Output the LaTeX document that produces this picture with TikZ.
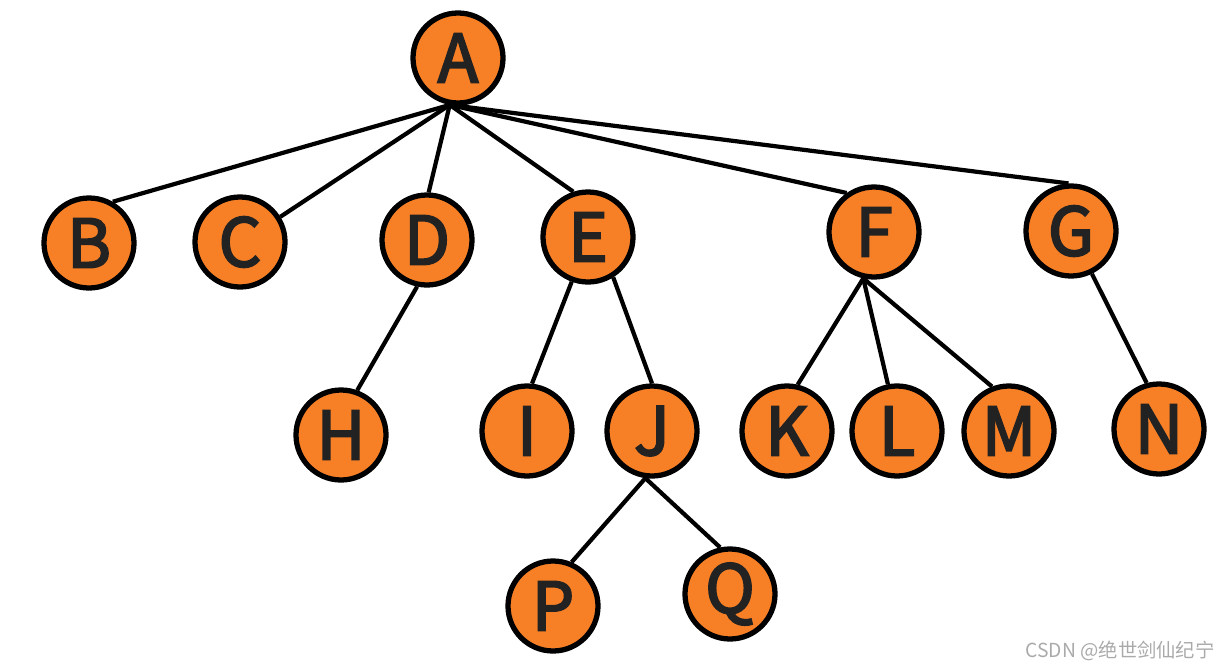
\documentclass[tikz,border=0pt]{standalone}
\usepackage{fontspec}
\newfontfamily\cjk{Noto Sans CJK SC}
\newfontfamily\lbl{Noto Sans CJK SC}[FakeBold=3]
\usetikzlibrary{positioning,backgrounds}
\definecolor{nodeorange}{RGB}{247,128,38}
\definecolor{lettergray}{RGB}{34,34,34}
\definecolor{markgray}{RGB}{170,170,170}
\tikzset{
  vtx/.style   = {circle, draw=black, line width=3pt, fill=nodeorange,
                  minimum size=1.8cm, inner sep=0pt, text=lettergray,
                  font=\lbl\fontsize{38}{38}\selectfont},
  edge/.style  = {line width=2.4pt, black},
  wmark/.style = {text=markgray, font=\cjk\fontsize{11}{11}\selectfont, inner sep=0pt},
}

\begin{document}
\begin{tikzpicture}[x=0.2mm,y=-0.2mm]
  \useasboundingbox (0,0) rectangle (1231,669);
  % root
  \node[vtx] (A) at (458,58) {A};
  % second level
  \node[vtx] (B) at (89,243) {B};
  \node[vtx] (C) at (240,242) {C};
  \node[vtx] (D) at (427,240) {D};
  \node[vtx] (E) at (588,237) {E};
  \node[vtx] (F) at (874,232) {F};
  \node[vtx] (G) at (1071,231) {G};
  % third level
  \node[vtx] (H) at (341,435) {H};
  \node[vtx] (I) at (527,431) {I};
  \node[vtx] (J) at (652,431) {J};
  \node[vtx] (K) at (787,431) {K};
  \node[vtx] (L) at (897,431) {L};
  \node[vtx] (M) at (1009,431) {M};
  \node[vtx] (N) at (1159,429) {N};
  % fourth level
  \node[vtx] (P) at (553,606) {P};
  \node[vtx] (Q) at (730,594) {Q};
  % edges, behind the circles
  \begin{pgfonlayer}{background}
    \draw[edge] (A.-100) -- (B.60);
    \draw[edge] (A.-100) -- (C.32);
    \draw[edge] (A.-100) -- (D.88);
    \draw[edge] (A.-100) -- (E.108);
    \draw[edge] (A.-100) -- (F.125);
    \draw[edge] (A.-100) -- (G.93);
    \draw[edge] (D.-102) -- (H.70);
    \draw[edge] (E.-110) -- (I.84);
    \draw[edge] (E.-58) -- (J.90);
    \draw[edge] (F.-103) -- (K.77);
    \draw[edge] (F.-103) -- (L.101);
    \draw[edge] (F.-103) -- (M.111);
    \draw[edge] (G.-64) -- (N.105);
    \draw[edge] (J.-98) -- (P.67);
    \draw[edge] (J.-98) -- (Q.102);
  \end{pgfonlayer}
  \node[wmark, anchor=east] (wm) at (1215,651) {CSDN @绝世剑仙纪宁};
\end{tikzpicture}
\end{document}
